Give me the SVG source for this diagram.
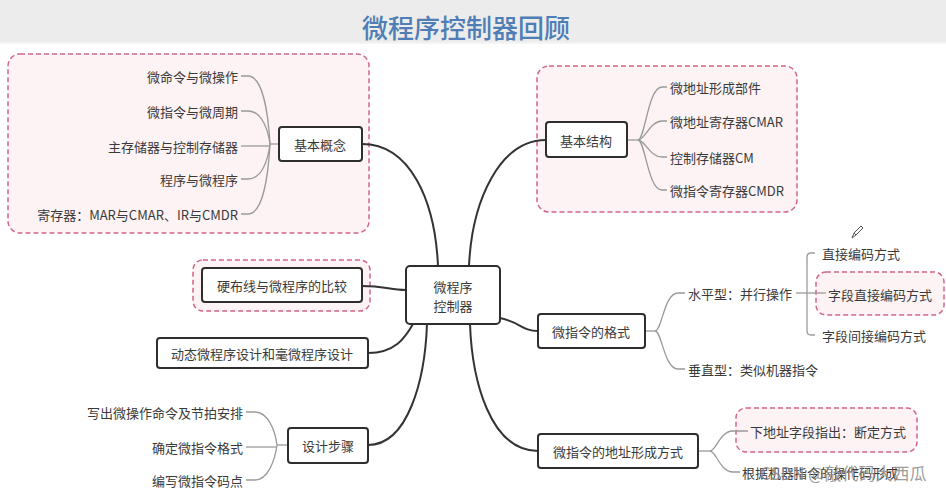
<svg xmlns="http://www.w3.org/2000/svg" width="946" height="491" viewBox="0 0 946 491">
<style>
text{font-family:"Noto Sans CJK SC","Noto Sans",sans-serif;font-size:13px;fill:#3a3a3a;dominant-baseline:central}
.r{text-anchor:end}
.m{text-anchor:middle}
.node{fill:#fff;stroke:#2e2e2e;stroke-width:2}
.grp{fill:#fdf3f5;stroke:#d2668a;stroke-width:1.5;stroke-dasharray:5 3}
.br{fill:none;stroke:#9a9a9a;stroke-width:1.3}
.main{fill:none;stroke:#333;stroke-width:2}
</style>
<rect x="0" y="0" width="946" height="491" fill="#fff"/>
<rect x="0" y="0" width="946" height="42" fill="#ececec"/>
<rect x="0" y="42" width="946" height="2" fill="#f4f4f4"/>
<text x="466" y="26" class="m" style="font-size:26px;fill:#4f7db5;font-weight:500">微程序控制器回顾</text>

<g id="groups">
<rect x="8" y="54" width="361" height="179" rx="12" class="grp"/>
<rect x="537" y="66" width="260" height="146" rx="12" class="grp"/>
<rect x="193" y="260" width="177" height="51" rx="10" class="grp"/>
<rect x="816" y="272" width="128" height="43" rx="10" class="grp"/>
<rect x="736" y="408" width="181" height="44" rx="10" class="grp"/>
</g>

<g id="connectors">
<path class="main" d="M362,144 C410,144 435,200 438,266"/>
<path class="main" d="M546,140 C500,140 472,200 469,266"/>
<path class="main" d="M362,286 C385,286 390,290 406,290"/>
<path class="main" d="M368,353 C395,353 405,338 413,324"/>
<path class="main" d="M368,445 C408,445 425,380 427,324"/>
<path class="main" d="M538,451 C490,451 472,380 470,324"/>
<path class="main" d="M500,318 C520,322 522,331 538,331"/>
<path class="br" d="M279,144 H270"/>
<path class="br" d="M241,76 H248 C262,76 268,110 270,144"/>
<path class="br" d="M241,111 H248 C262,111 268,130 270,144"/>
<path class="br" d="M241,146 H270"/>
<path class="br" d="M241,179 H248 C262,179 268,160 270,144"/>
<path class="br" d="M241,214 H248 C262,214 268,180 270,144"/>
<path class="br" d="M627,140 H638"/>
<path class="br" d="M638,140 C645,140 648,87 662,87 H667"/>
<path class="br" d="M638,140 C645,140 650,121 662,121 H667"/>
<path class="br" d="M638,140 C645,140 650,157 662,157 H667"/>
<path class="br" d="M638,140 C645,140 648,190 662,190 H667"/>
<path class="br" d="M645,331 H655"/>
<path class="br" d="M655,331 C662,331 664,293 678,293 H685"/>
<path class="br" d="M655,331 C662,331 664,369 678,369 H685"/>
<path class="br" d="M796,293 H826"/>
<path class="br" d="M815,253 H811 Q807,253 807,257 V331 Q807,335 811,335 H815"/>
<path class="br" d="M698,451 H710"/>
<path class="br" d="M710,451 C716,451 720,431 733,431 H748"/>
<path class="br" d="M710,451 C716,451 720,472 733,472 H740"/>
<path class="br" d="M288,445 H277"/>
<path class="br" d="M246,412 H255 C268,412 275,430 277,445"/>
<path class="br" d="M246,447 H277"/>
<path class="br" d="M246,480 H255 C268,480 275,460 277,445"/>
</g>

<g id="n-center"><rect x="406" y="266" width="94" height="58" rx="4" class="node"/>
<text x="453" y="286" class="m">微程序</text><text x="453" y="305" class="m">控制器</text></g>

<g id="n-jbgn"><rect x="279" y="127" width="83" height="34" rx="3" class="node"/><text x="320" y="144" class="m">基本概念</text></g>
<g id="jbgn-items">
<text x="238" y="76" class="r">微命令与微操作</text>
<text x="238" y="111" class="r">微指令与微周期</text>
<text x="238" y="146" class="r">主存储器与控制存储器</text>
<text x="238" y="179" class="r">程序与微程序</text>
<text x="238" y="214" class="r">寄存器：MAR与CMAR、IR与CMDR</text>
</g>

<g id="n-jbjg"><rect x="546" y="122" width="81" height="35" rx="3" class="node"/><text x="586" y="140" class="m">基本结构</text></g>
<g id="jbjg-items">
<text x="670" y="87">微地址形成部件</text>
<text x="670" y="121">微地址寄存器CMAR</text>
<text x="670" y="157">控制存储器CM</text>
<text x="670" y="190">微指令寄存器CMDR</text>
</g>

<g id="n-ybx"><rect x="202" y="268" width="160" height="34" rx="3" class="node"/><text x="282" y="285" class="m">硬布线与微程序的比较</text></g>
<g id="n-dt"><rect x="157" y="338" width="211" height="30" rx="3" class="node"/><text x="262" y="353" class="m">动态微程序设计和毫微程序设计</text></g>

<g id="n-sjbz"><rect x="288" y="428" width="80" height="35" rx="3" class="node"/><text x="328" y="445" class="m">设计步骤</text></g>
<g id="sjbz-items">
<text x="243" y="412" class="r">写出微操作命令及节拍安排</text>
<text x="243" y="447" class="r">确定微指令格式</text>
<text x="243" y="480" class="r">编写微指令码点</text>
</g>

<g id="n-gs"><rect x="538" y="314" width="107" height="34" rx="3" class="node"/><text x="591" y="331" class="m">微指令的格式</text></g>
<g id="gs-items">
<text x="688" y="293">水平型：并行操作</text>
<text x="688" y="369">垂直型：类似机器指令</text>
<text x="822" y="253">直接编码方式</text>
<text x="828" y="294">字段直接编码方式</text>
<text x="822" y="335">字段间接编码方式</text>
</g>
<g id="pencil" fill="none" stroke="#555" stroke-width="1">
<path d="M852,238 L854,233 L861,226 L863,228 L856,235 Z M854,233 L856,235"/>
</g>

<g id="n-dz"><rect x="538" y="434" width="160" height="34" rx="3" class="node"/><text x="618" y="451" class="m">微指令的地址形成方式</text></g>
<g id="dz-items">
<text x="750" y="431">下地址字段指出：断定方式</text>
<text x="742" y="472">根据机器指令的操作码形成</text>
</g>
<text x="760" y="472" style="font-size:17px;fill:#8a8a8a;fill-opacity:0.85">CSDN @敲代码大西瓜</text>
</svg>
